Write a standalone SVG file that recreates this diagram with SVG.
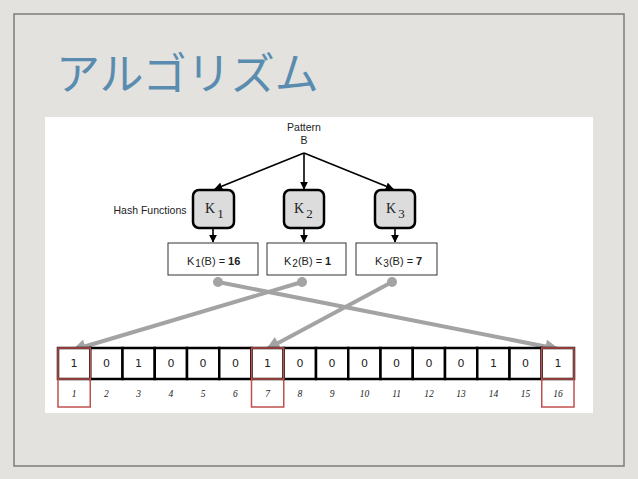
<svg xmlns="http://www.w3.org/2000/svg" width="638" height="479" viewBox="0 0 638 479">
<defs>
<marker id="ab" viewBox="0 0 10 10" refX="9" refY="5" markerWidth="8" markerHeight="8" markerUnits="userSpaceOnUse" orient="auto"><path d="M0,0 L10,5 L0,10 z" fill="#000"/></marker>
<marker id="ag" viewBox="0 0 10 10" refX="9" refY="5" markerWidth="16" markerHeight="14" markerUnits="userSpaceOnUse" orient="auto"><path d="M0,0 L10,5 L0,10 z" fill="#a3a3a3"/></marker>
</defs>
<style>
.lbl{font-family:"Liberation Sans",Arial,sans-serif;font-size:10.5px;fill:#222;text-anchor:middle}
.kbox{fill:#dcdcdc;stroke:#000;stroke-width:2.5}
.kt{font-family:"Liberation Serif","Times New Roman",serif;font-size:14px;fill:#222}
.rbox{fill:#fff;stroke:#333;stroke-width:1}
.rt{font-family:"Liberation Sans",Arial,sans-serif;font-size:11px;fill:#222}
.blk{stroke:#000;stroke-width:1.6}
.gray{stroke:#a3a3a3;stroke-width:4;fill:none}
.cell{fill:#fff;stroke:#000;stroke-width:2.5}
.bit{font-family:"DejaVu Sans",sans-serif;font-size:11px;fill:#222;text-anchor:middle}
.idx{font-family:"Liberation Serif","Times New Roman",serif;font-style:italic;font-size:9.5px;fill:#222;text-anchor:middle}
.red{fill:none;stroke:#c0504d;stroke-width:1.5}
</style>
<rect width="638" height="479" fill="#e3e2de"/>
<rect x="14" y="14" width="610" height="452" fill="none" stroke="#7c7c7a" stroke-width="1.5"/>
<text x="56" y="90" font-family="'Noto Sans CJK JP',sans-serif" font-size="44" fill="#5a8cb0">アルゴリズム</text>
<rect x="45" y="117" width="548" height="296" fill="#fff"/>

<g id="pattern"><text class="lbl" x="304" y="131">Pattern</text><text class="lbl" x="304" y="144">B</text></g>
<g id="hash-label"><text class="lbl" x="150" y="214">Hash Functions</text></g>

<g id="connectors">
<line class="blk" x1="304" y1="153" x2="215" y2="189" marker-end="url(#ab)"/>
<line class="blk" x1="304" y1="153" x2="304" y2="189" marker-end="url(#ab)"/>
<line class="blk" x1="304" y1="153" x2="393" y2="189" marker-end="url(#ab)"/>
<line class="blk" x1="213" y1="228" x2="213" y2="242" marker-end="url(#ab)"/>
<line class="blk" x1="304" y1="228" x2="304" y2="242" marker-end="url(#ab)"/>
<line class="blk" x1="395" y1="228" x2="395" y2="242" marker-end="url(#ab)"/>
<line class="gray" x1="218" y1="282" x2="558" y2="349" marker-end="url(#ag)"/>
<line class="gray" x1="302" y1="282" x2="73" y2="350" marker-end="url(#ag)"/>
<line class="gray" x1="392" y1="282" x2="267" y2="349" marker-end="url(#ag)"/>
<circle cx="218" cy="282" r="5" fill="#a3a3a3"/>
<circle cx="302" cy="282" r="5" fill="#a3a3a3"/>
<circle cx="392" cy="282" r="5" fill="#a3a3a3"/>
</g>

<g id="k1"><rect class="kbox" x="193" y="190" width="41" height="38" rx="6"/><text class="kt" x="205" y="213">K<tspan font-size="13" dx="2" dy="5">1</tspan></text></g>
<g id="k2"><rect class="kbox" x="284" y="190" width="40" height="38" rx="6"/><text class="kt" x="294" y="213">K<tspan font-size="13" dx="2" dy="5">2</tspan></text></g>
<g id="k3"><rect class="kbox" x="375" y="190" width="40" height="38" rx="6"/><text class="kt" x="386" y="213">K<tspan font-size="13" dx="2" dy="5">3</tspan></text></g>

<g id="r1"><rect class="rbox" x="168" y="243" width="90" height="32"/><text class="rt" x="187" y="265">K<tspan font-size="10" dx="1" dy="2">1</tspan><tspan dy="-2">(B) = </tspan><tspan font-weight="bold">16</tspan></text></g>
<g id="r2"><rect class="rbox" x="267" y="243" width="79" height="32"/><text class="rt" x="284" y="265">K<tspan font-size="10" dx="1" dy="2">2</tspan><tspan dy="-2">(B) = </tspan><tspan font-weight="bold">1</tspan></text></g>
<g id="r3"><rect class="rbox" x="356" y="243" width="81" height="32"/><text class="rt" x="375" y="265">K<tspan font-size="10" dx="1" dy="2">3</tspan><tspan dy="-2">(B) = </tspan><tspan font-weight="bold">7</tspan></text></g>

<g id="bits">
<rect class="cell" x="58" y="348" width="32.25" height="31"/>
<rect class="cell" x="90.25" y="348" width="32.25" height="31"/>
<rect class="cell" x="122.5" y="348" width="32.25" height="31"/>
<rect class="cell" x="154.75" y="348" width="32.25" height="31"/>
<rect class="cell" x="187" y="348" width="32.25" height="31"/>
<rect class="cell" x="219.25" y="348" width="32.25" height="31"/>
<rect class="cell" x="251.5" y="348" width="32.25" height="31"/>
<rect class="cell" x="283.75" y="348" width="32.25" height="31"/>
<rect class="cell" x="316" y="348" width="32.25" height="31"/>
<rect class="cell" x="348.25" y="348" width="32.25" height="31"/>
<rect class="cell" x="380.5" y="348" width="32.25" height="31"/>
<rect class="cell" x="412.75" y="348" width="32.25" height="31"/>
<rect class="cell" x="445" y="348" width="32.25" height="31"/>
<rect class="cell" x="477.25" y="348" width="32.25" height="31"/>
<rect class="cell" x="509.5" y="348" width="32.25" height="31"/>
<rect class="cell" x="541.75" y="348" width="32.25" height="31"/>
<g class="bit">
<text x="74.1" y="367">1</text><text x="106.4" y="367">0</text><text x="138.6" y="367">1</text><text x="170.9" y="367">0</text>
<text x="203.1" y="367">0</text><text x="235.4" y="367">0</text><text x="267.6" y="367">1</text><text x="299.9" y="367">0</text>
<text x="332.1" y="367">0</text><text x="364.4" y="367">0</text><text x="396.6" y="367">0</text><text x="428.9" y="367">0</text>
<text x="461.1" y="367">0</text><text x="493.4" y="367">1</text><text x="525.6" y="367">0</text><text x="557.9" y="367">1</text>
</g>
<g class="idx">
<text x="74.1" y="397">1</text><text x="106.4" y="397">2</text><text x="138.6" y="397">3</text><text x="170.9" y="397">4</text>
<text x="203.1" y="397">5</text><text x="235.4" y="397">6</text><text x="267.6" y="397">7</text><text x="299.9" y="397">8</text>
<text x="332.1" y="397">9</text><text x="364.4" y="397">10</text><text x="396.6" y="397">11</text><text x="428.9" y="397">12</text>
<text x="461.1" y="397">13</text><text x="493.4" y="397">14</text><text x="525.6" y="397">15</text><text x="557.9" y="397">16</text>
</g>
<rect class="red" x="58" y="348" width="32.25" height="59"/><line class="red" x1="58" y1="379" x2="90.25" y2="379"/>
<rect class="red" x="251.5" y="348" width="32.25" height="59"/><line class="red" x1="251.5" y1="379" x2="283.75" y2="379"/>
<rect class="red" x="541.75" y="348" width="32.25" height="59"/><line class="red" x1="541.75" y1="379" x2="574" y2="379"/>
</g>
</svg>
